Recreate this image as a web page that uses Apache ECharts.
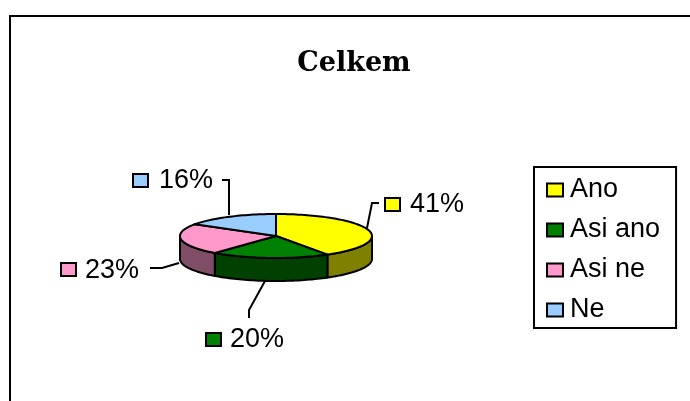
<!DOCTYPE html>
<html><head><meta charset="utf-8">
<style>html,body{margin:0;padding:0;background:#fff}#c{width:690px;height:401px;filter:blur(0.4px)}</style>
<script src="https://cdn.jsdelivr.net/npm/echarts@6/dist/echarts.min.js"></script>
</head><body><div id="c"></div>
<script>
const titleText = 'Celkem';
const categories = ['Ano', 'Asi ano', 'Asi ne', 'Ne'];
const percents = [41, 20, 23, 16];
const topColors = ['#FFFF00', '#008000', '#FF99CC', '#99CCFF'];
const sideColors = ['#808000', '#004000', '#804D66', '#4D6680'];

const pie = { cx: 276, cy: 236, rx: 96, ry: 22, depth: 23 };
const labelLayout = [
  { key: [385, 198], text: [410, 205], line: [[379, 203], [372, 203], [367, 228]] },
  { key: [206, 333], text: [230, 340], line: [[249, 318], [249, 310], [265, 281]] },
  { key: [61, 263], text: [85, 271], line: [[150, 268], [162, 268], [179, 263]] },
  { key: [133, 174], text: [159, 181], line: [[222, 180], [229, 180], [229, 215]] }
];

const total = percents.reduce((a, b) => a + b, 0);
function pt(a, dy) {
  return [pie.cx + pie.rx * Math.sin(a), pie.cy - pie.ry * Math.cos(a) + (dy || 0)];
}
function arc(a0, a1, dy) {
  const n = Math.max(2, Math.ceil(Math.abs(a1 - a0) / 0.03));
  const out = [];
  for (let i = 0; i <= n; i++) out.push(pt(a0 + (a1 - a0) * i / n, dy));
  return out;
}
const edge = { stroke: '#000', lineWidth: 2, lineJoin: 'round' };
const starts = percents.map((_, i) => percents.slice(0, i).reduce((a, b) => a + b, 0) / total * 2 * Math.PI);

function renderSlice(i) {
  return function () {
    const a0 = starts[i], a1 = a0 + percents[i] / total * 2 * Math.PI;
    const children = [];
    const s0 = Math.max(a0, Math.PI / 2), s1 = Math.min(a1, 3 * Math.PI / 2);
    if (s1 > s0) {
      const pts = arc(s0, s1, 0).concat(arc(s1, s0, pie.depth));
      children.push({ type: 'polygon', z2: 1, shape: { points: pts },
        style: Object.assign({ fill: sideColors[i] }, edge) });
    }
    children.push({ type: 'polygon', z2: 2, shape: { points: [[pie.cx, pie.cy]].concat(arc(a0, a1, 0)) },
      style: Object.assign({ fill: topColors[i] }, edge) });
    const L = labelLayout[i];
    children.push({ type: 'polyline', z2: 3, shape: { points: L.line },
      style: { fill: null, stroke: '#000', lineWidth: 2 } });
    children.push({ type: 'rect', z2: 3, shape: { x: L.key[0], y: L.key[1], width: 15, height: 13 },
      style: { fill: topColors[i], stroke: '#000', lineWidth: 2 } });
    children.push({ type: 'text', z2: 3, x: L.text[0], y: L.text[1],
      style: { text: percents[i] + '%', fill: '#000', font: '27px "Liberation Sans"',
        textAlign: 'left', textVerticalAlign: 'middle' } });
    return { type: 'group', children };
  };
}

const chart = echarts.init(document.getElementById('c'), null, { renderer: 'canvas' });
chart.setOption({
  animation: false,
  backgroundColor: '#fff',
  title: {
    text: titleText, left: 349, top: 45, textAlign: 'center',
    textStyle: { fontFamily: '"DejaVu Serif"', fontWeight: 'bold', fontSize: 27, color: '#000' }
  },
  legend: {
    orient: 'vertical', left: 534, top: 167,
    data: categories, icon: 'rect', itemWidth: 16, itemHeight: 13, itemGap: 10,
    padding: [8, 16, 3, 12], borderColor: '#000', borderWidth: 2, backgroundColor: '#fff',
    selectedMode: false,
    itemStyle: { borderColor: '#000', borderWidth: 2 },
    textStyle: { fontFamily: '"Liberation Sans"', fontSize: 27, color: '#000', lineHeight: 30, padding: [0, 0, 0, 2] }
  },
  graphic: [
    { type: 'polyline', shape: { points: [[10, 401], [10, 16], [690, 16]] }, style: { fill: null, stroke: '#000', lineWidth: 2 } }
  ],
  series: categories.map((name, i) => ({
    type: 'custom', name, coordinateSystem: 'none',
    itemStyle: { color: topColors[i] },
    data: [percents[i]], renderItem: renderSlice(i)
  }))
});
</script></body></html>
